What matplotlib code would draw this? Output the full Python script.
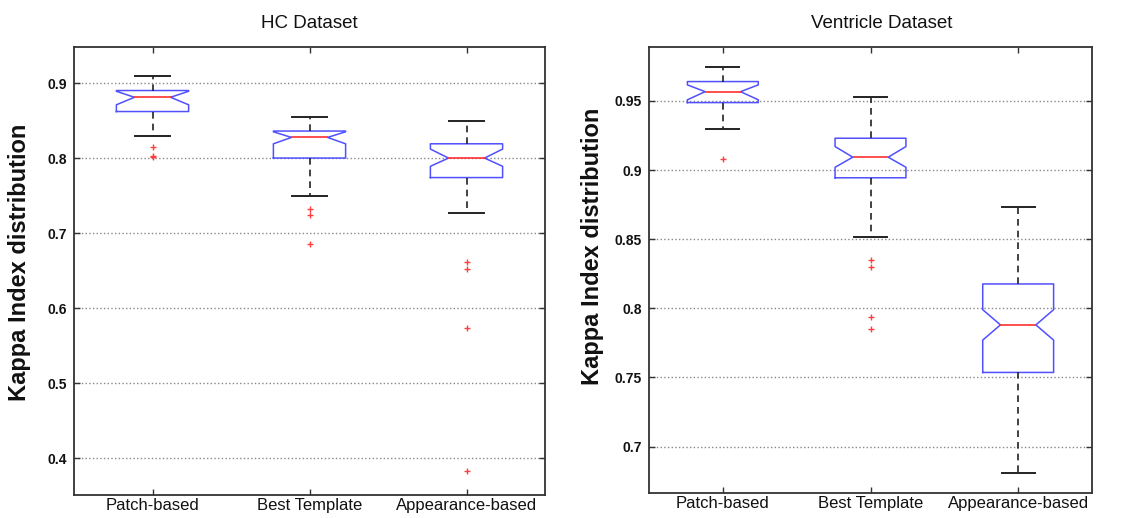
import matplotlib
matplotlib.use("Agg")
import matplotlib.pyplot as plt

plt.rcParams['font.family'] = ['Liberation Sans', 'DejaVu Sans']

categories = ["Patch-based", "Best Template", "Appearance-based"]

# HC dataset
hc_med = [0.881, 0.8275, 0.800]
hc_q1 = [0.862, 0.800, 0.774]
hc_q3 = [0.890, 0.836, 0.819]
hc_whislo = [0.829, 0.750, 0.727]
hc_whishi = [0.909, 0.855, 0.850]
hc_cilo = [0.871, 0.819, 0.789]
hc_cihi = [0.889, 0.835, 0.812]
hc_fliers = [[0.815, 0.803, 0.801], [0.732, 0.724, 0.686], [0.661, 0.652, 0.574, 0.383]]
hc_yticks = [0.4, 0.5, 0.6, 0.7, 0.8, 0.9]
hc_yticklabels = ["0.4", "0.5", "0.6", "0.7", "0.8", "0.9"]

# Ventricle dataset
ve_med = [0.9567, 0.9093, 0.788]
ve_q1 = [0.9488, 0.8944, 0.7536]
ve_q3 = [0.964, 0.923, 0.8176]
ve_whislo = [0.9295, 0.8517, 0.6812]
ve_whishi = [0.9748, 0.953, 0.8736]
ve_cilo = [0.9508, 0.902, 0.777]
ve_cihi = [0.9616, 0.917, 0.799]
ve_fliers = [[0.908], [0.8347, 0.830, 0.7935, 0.785], []]
ve_yticks = [0.7, 0.75, 0.8, 0.85, 0.9, 0.95]
ve_yticklabels = ["0.7", "0.75", "0.8", "0.85", "0.9", "0.95"]

titles = ["HC Dataset", "Ventricle Dataset"]
ylabel = "Kappa Index distribution"


def make_stats(med, q1, q3, lo, hi, cilo, cihi, fliers):
    out = []
    for i in range(len(med)):
        out.append(dict(med=med[i], q1=q1[i], q3=q3[i], whislo=lo[i], whishi=hi[i],
                        cilo=cilo[i], cihi=cihi[i], fliers=fliers[i], label=categories[i]))
    return out


fig = plt.figure(figsize=(11.23, 5.18), dpi=100)
ax1 = fig.add_axes([74 / 1123, 1 - 495 / 518, (545 - 74) / 1123, (495 - 47) / 518])
ax2 = fig.add_axes([649 / 1123, 1 - 493 / 518, (1092 - 649) / 1123, (493 - 47) / 518])

panels = [
    (ax1, make_stats(hc_med, hc_q1, hc_q3, hc_whislo, hc_whishi, hc_cilo, hc_cihi, hc_fliers),
     hc_yticks, hc_yticklabels, (0.351, 0.948), 0.46, 0.5),
    (ax2, make_stats(ve_med, ve_q1, ve_q3, ve_whislo, ve_whishi, ve_cilo, ve_cihi, ve_fliers),
     ve_yticks, ve_yticklabels, (0.6664, 0.989), 0.48, 0.526),
]

for k, (ax, stats, yt, ytl, ylim, w, tx) in enumerate(panels):
    ax.bxp(stats, positions=[1, 2, 3], widths=w, capwidths=0.225, shownotches=True,
           patch_artist=False,
           boxprops=dict(color='#5050ff', linewidth=1.1),
           medianprops=dict(color='#ff3030', linewidth=1.2),
           whiskerprops=dict(color='#222222', linewidth=1.2, linestyle=(0, (4, 3))),
           capprops=dict(color='#222222', linewidth=1.4),
           flierprops=dict(marker='+', markersize=4, markeredgecolor='#ff4040',
                           markeredgewidth=1.0, linestyle='none'))
    ax.set_xlim(0.5, 3.5)
    ax.set_ylim(*ylim)
    ax.set_yticks(yt)
    ax.set_yticklabels(ytl, fontsize=10, fontweight='bold')
    ax.set_xticks([1, 2, 3])
    ax.set_xticklabels(categories, fontsize=12)
    ax.yaxis.grid(True, linestyle=':', color='#888888', linewidth=1.0)
    ax.set_axisbelow(True)
    ax.tick_params(direction='in', top=True, right=True, length=4, width=1, colors='#333333')
    ax.tick_params(axis='x', pad=2, labelcolor='#111111')
    ax.tick_params(axis='y', pad=5, labelcolor='#111111')
    for sp in ax.spines.values():
        sp.set_color('#333333')
        sp.set_linewidth(1.3)
    ax.set_title(titles[k], fontsize=13.5, x=tx, pad=14, color='#111111')

fig.text(20 / 1123, 1 - 262 / 518, ylabel, rotation=90, fontsize=17, fontweight='bold',
         ha='center', va='center', color='#111111')
fig.text(592 / 1123, 1 - 246 / 518, ylabel, rotation=90, fontsize=17, fontweight='bold',
         ha='center', va='center', color='#111111')

fig.savefig("out.png", dpi=100)
